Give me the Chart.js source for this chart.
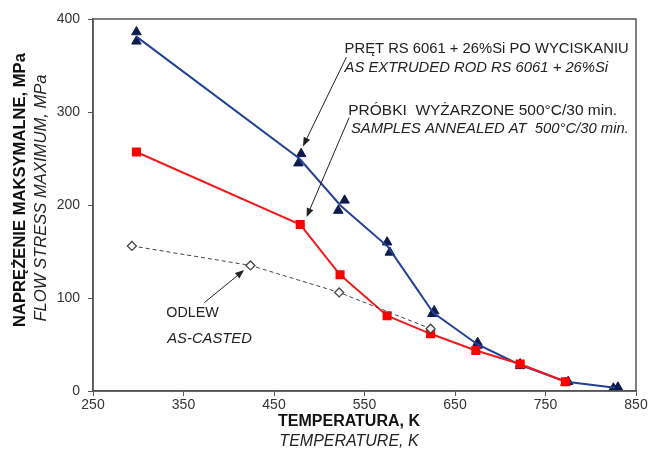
<!DOCTYPE html>
<html>
<head>
<meta charset="utf-8">
<script src="https://cdn.jsdelivr.net/npm/chart.js@4"></script>
<style>
  html, body { margin: 0; padding: 0; background: #fff; }
  #wrap { width: 650px; height: 453px; }
</style>
</head>
<body>
<div id="wrap"><canvas id="wykres"></canvas></div>
<script>
// === DANE ===
// pręt po wyciskaniu - pojedyncze próbki (trójkąty)
const rodTempK = [298, 298, 477, 480, 521, 528, 575, 578, 625, 627, 675, 675, 722, 722, 772, 775, 825, 830];
const rodStress = [376, 386, 245, 255, 194, 205, 160, 149, 83, 86, 49, 52, 27, 29, 9, 10, 3, 4];
// pręt po wyciskaniu - linia przez średnie
const rodLineTempK = [298, 478, 524, 576, 626, 675, 722, 773, 827];
const rodLineStress = [381, 250, 199, 155, 84, 50, 28, 10, 3.5];
// próbki wyżarzone 500C/30 min
const annealTempK = [298, 479, 523, 575, 623, 673, 722, 772];
const annealStress = [257, 179, 125, 81, 61.5, 43.5, 29, 10];
// odlew
const castTempK = [293, 424, 522, 623];
const castStress = [156, 135, 106, 67];

const xTicks = [250, 350, 450, 550, 650, 750, 850];
const yTicks = [0, 100, 200, 300, 400];

// opisy i strzałki (współrzędne w jednostkach osi)
const labelTexts = [
  { t: "PRĘT RS 6061 + 26%Si PO WYCISKANIU", x: 528, y: 368, italic: false, size: 14.8 },
  { t: "AS EXTRUDED ROD RS 6061 + 26%Si", x: 528, y: 347, italic: true, size: 14.8 },
  { t: "PRÓBKI  WYŻARZONE 500°C/30 min.", x: 532, y: 301, italic: false, size: 15.5 },
  { t: "SAMPLES ANNEALED AT  500°C/30 min.", x: 535, y: 282, italic: true, size: 14.8 },
  { t: "ODLEW", x: 331, y: 84, italic: false, size: 14.3 },
  { t: "AS-CASTED", x: 332, y: 56, italic: true, size: 14.8 }
];
const arrows = [
  { x1: 530, y1: 359, x2: 482, y2: 263 },
  { x1: 533, y1: 294, x2: 486, y2: 187 },
  { x1: 373, y1: 95, x2: 417, y2: 130 }
];

function pts(xs, ys) {
  return xs.map((x, i) => ({ x: x, y: ys[i] }));
}

const FONT = '"Liberation Sans", Arial, sans-serif';

// === PLUGIN: ramka, tytuły osi, opisy ===
const opisyPlugin = {
  id: "opisy",
  afterDraw(chart) {
    const ctx = chart.ctx;
    const a = chart.chartArea;
    const sx = chart.scales.x, sy = chart.scales.y;
    ctx.save();

    // ramka wykresu
    ctx.strokeStyle = "#555";
    ctx.lineWidth = 1.5;
    ctx.strokeRect(a.left, a.top, a.right - a.left, a.bottom - a.top);

    // strzałki
    ctx.strokeStyle = "#222";
    ctx.fillStyle = "#222";
    ctx.lineWidth = 1;
    arrows.forEach(ar => {
      const x1 = sx.getPixelForValue(ar.x1), y1 = sy.getPixelForValue(ar.y1);
      const x2 = sx.getPixelForValue(ar.x2), y2 = sy.getPixelForValue(ar.y2);
      const ang = Math.atan2(y2 - y1, x2 - x1);
      ctx.beginPath();
      ctx.moveTo(x1, y1);
      ctx.lineTo(x2 - 6 * Math.cos(ang), y2 - 6 * Math.sin(ang));
      ctx.stroke();
      ctx.beginPath();
      ctx.moveTo(x2, y2);
      ctx.lineTo(x2 - 9 * Math.cos(ang) + 3.5 * Math.sin(ang), y2 - 9 * Math.sin(ang) - 3.5 * Math.cos(ang));
      ctx.lineTo(x2 - 9 * Math.cos(ang) - 3.5 * Math.sin(ang), y2 - 9 * Math.sin(ang) + 3.5 * Math.cos(ang));
      ctx.closePath();
      ctx.fill();
    });

    // opisy serii
    ctx.fillStyle = "#222";
    ctx.textBaseline = "middle";
    ctx.textAlign = "left";
    labelTexts.forEach(l => {
      ctx.font = (l.italic ? "italic " : "") + l.size + "px " + FONT;
      ctx.fillText(l.t, sx.getPixelForValue(l.x), sy.getPixelForValue(l.y));
    });

    // tytuły osi
    ctx.textAlign = "center";
    ctx.fillStyle = "#111";
    ctx.font = "bold 16px " + FONT;
    ctx.fillText("TEMPERATURA, K", 349, 422);
    ctx.fillStyle = "#222";
    ctx.font = "italic 16px " + FONT;
    ctx.fillText("TEMPERATURE, K", 349, 442);

    ctx.save();
    ctx.translate(20, 190);
    ctx.rotate(-Math.PI / 2);
    ctx.fillStyle = "#111";
    ctx.font = "bold 16.6px " + FONT;
    ctx.fillText("NAPRĘŻENIE MAKSYMALNE, MPa", 0, 0);
    ctx.restore();

    ctx.translate(41, 198);
    ctx.rotate(-Math.PI / 2);
    ctx.fillStyle = "#222";
    ctx.font = "italic 16.6px " + FONT;
    ctx.fillText("FLOW STRESS MAXIMUM, MPa", 0, 0);

    ctx.restore();
  }
};

const ctx = document.getElementById("wykres").getContext("2d");
new Chart(ctx, {
  type: "scatter",
  data: {
    datasets: [
      {
        label: "odlew",
        data: pts(castTempK, castStress),
        showLine: true,
        borderColor: "#444",
        borderWidth: 1,
        borderDash: [4, 3],
        pointStyle: "rectRot",
        pointRadius: 4.5,
        pointBackgroundColor: "#fff",
        pointBorderColor: "#444",
        pointBorderWidth: 1.3
      },
      {
        label: "wyżarzone",
        data: pts(annealTempK, annealStress),
        showLine: true,
        borderColor: "#f01c1c",
        borderWidth: 2,
        pointStyle: "rect",
        pointRadius: 5,
        pointBackgroundColor: "#ff0000",
        pointBorderColor: "#ff0000"
      },
      {
        label: "pręt - linia",
        data: pts(rodLineTempK, rodLineStress),
        showLine: true,
        borderColor: "#21409a",
        borderWidth: 2,
        pointRadius: 0
      },
      {
        label: "pręt",
        data: pts(rodTempK, rodStress),
        showLine: false,
        pointStyle: "triangle",
        pointRadius: 5.5,
        pointBackgroundColor: "#0f1b4c",
        pointBorderColor: "#0f1b4c"
      }
    ]
  },
  options: {
    responsive: true,
    maintainAspectRatio: false,
    animation: false,
    layout: { padding: { left: 0, right: 14, top: 19, bottom: 0 } },
    plugins: {
      legend: { display: false },
      tooltip: { enabled: false }
    },
    scales: {
      x: {
        type: "linear",
        min: 250,
        max: 850,
        afterBuildTicks: s => { s.ticks = xTicks.map(v => ({ value: v })); },
        afterFit: s => { s.height = 62; },
        grid: { drawOnChartArea: false, drawTicks: true, tickLength: 5, color: "#555" },
        border: { color: "#555", width: 1.5 },
        ticks: { color: "#333", font: { family: FONT, size: 14 }, padding: 1, maxRotation: 0 }
      },
      y: {
        type: "linear",
        min: 0,
        max: 400,
        afterBuildTicks: s => { s.ticks = yTicks.map(v => ({ value: v })); },
        afterFit: s => { s.width = 93; },
        grid: { drawOnChartArea: false, drawTicks: true, tickLength: 5, color: "#555" },
        border: { color: "#555", width: 1.5 },
        ticks: { color: "#333", font: { family: FONT, size: 14 }, padding: 8 }
      }
    }
  },
  plugins: [opisyPlugin]
});
</script>
</body>
</html>
